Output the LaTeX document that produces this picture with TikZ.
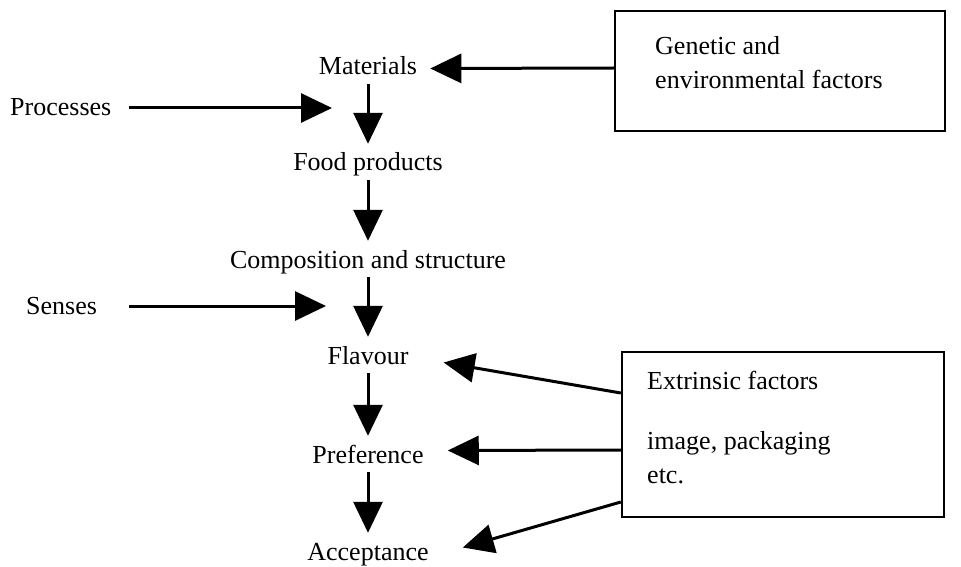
\documentclass[tikz,border=0pt]{standalone}
\usepackage{fontspec}
\setmainfont{Liberation Serif}
\usetikzlibrary{arrows.meta,calc}
\begin{document}
\begin{tikzpicture}[x=1pt,y=-1pt,
  lbl/.style={font=\fontsize{26}{30}\selectfont, inner sep=0pt, text height=18pt, text depth=5pt},
  stage/.style={lbl, anchor=base},
  side/.style={lbl, anchor=base west},
  factorbox/.style={draw, line width=2.4pt, inner sep=0pt},
  arr/.style={line width=3pt, -{Triangle[length=31pt,width=29pt]}},
  vflow/.style={arr, shorten <=4pt, shorten >=9pt}]
\useasboundingbox (0,0) rectangle (961,567);

% main chain, centred on one column
\node[stage] (mat)  at (368,75)  {Materials};
\node[stage] (food) at (368,171) {Food products};
\node[stage] (comp) at (368,268) {Composition and structure};
\node[stage] (flav) at (368,364) {Flavour};
\node[stage] (pref) at (368,463) {Preference};
\node[stage] (acc)  at (368,560) {Acceptance};

\draw[vflow] (mat)  -- (food);
\draw[vflow] (food) -- (comp);
\draw[vflow] (comp) -- (flav);
\draw[vflow] (flav) -- (pref);
\draw[vflow] (pref) -- (acc);

% inputs from the left
\node[side] (proc) at (10,116) {Processes};
\node[side] (sens) at (26,314) {Senses};
\coordinate (proctip) at (332,108);
\coordinate (senstip) at (326,306);
\draw[arr] (proc.east |- proctip) ++(18,0) -- (proctip);
\draw[arr] (sens.east |- senstip) ++(32,0) -- (senstip);

% factor boxes on the right
\node[factorbox, minimum width=330pt, minimum height=120pt] (gen) at (780,71) {};
\node[side] (gen1) at (655,55) {Genetic and};
\node[side] (gen2) at (655,89) {environmental factors};

\node[factorbox, minimum width=322pt, minimum height=165pt] (ext) at (783,434.5) {};
\node[side] (ext1) at (647,389) {Extrinsic factors};
\node[side] (ext2) at (647,449) {image, packaging};
\node[side] (ext3) at (647,483) {etc.};

% influences on the chain
\draw[arr] (gen.west |- 0,68) -- ($(mat.east)+(13,0)$);
\draw[arr] (ext.west |- 0,393) -- ($(flav.east)+(35,5)$);
\draw[arr] (ext.west |- 0,450) -- ($(pref.east)+(24,-6)$);
\draw[arr] (ext.west |- 0,502) -- ($(acc.east)+(34,-6)$);
\end{tikzpicture}
\end{document}
